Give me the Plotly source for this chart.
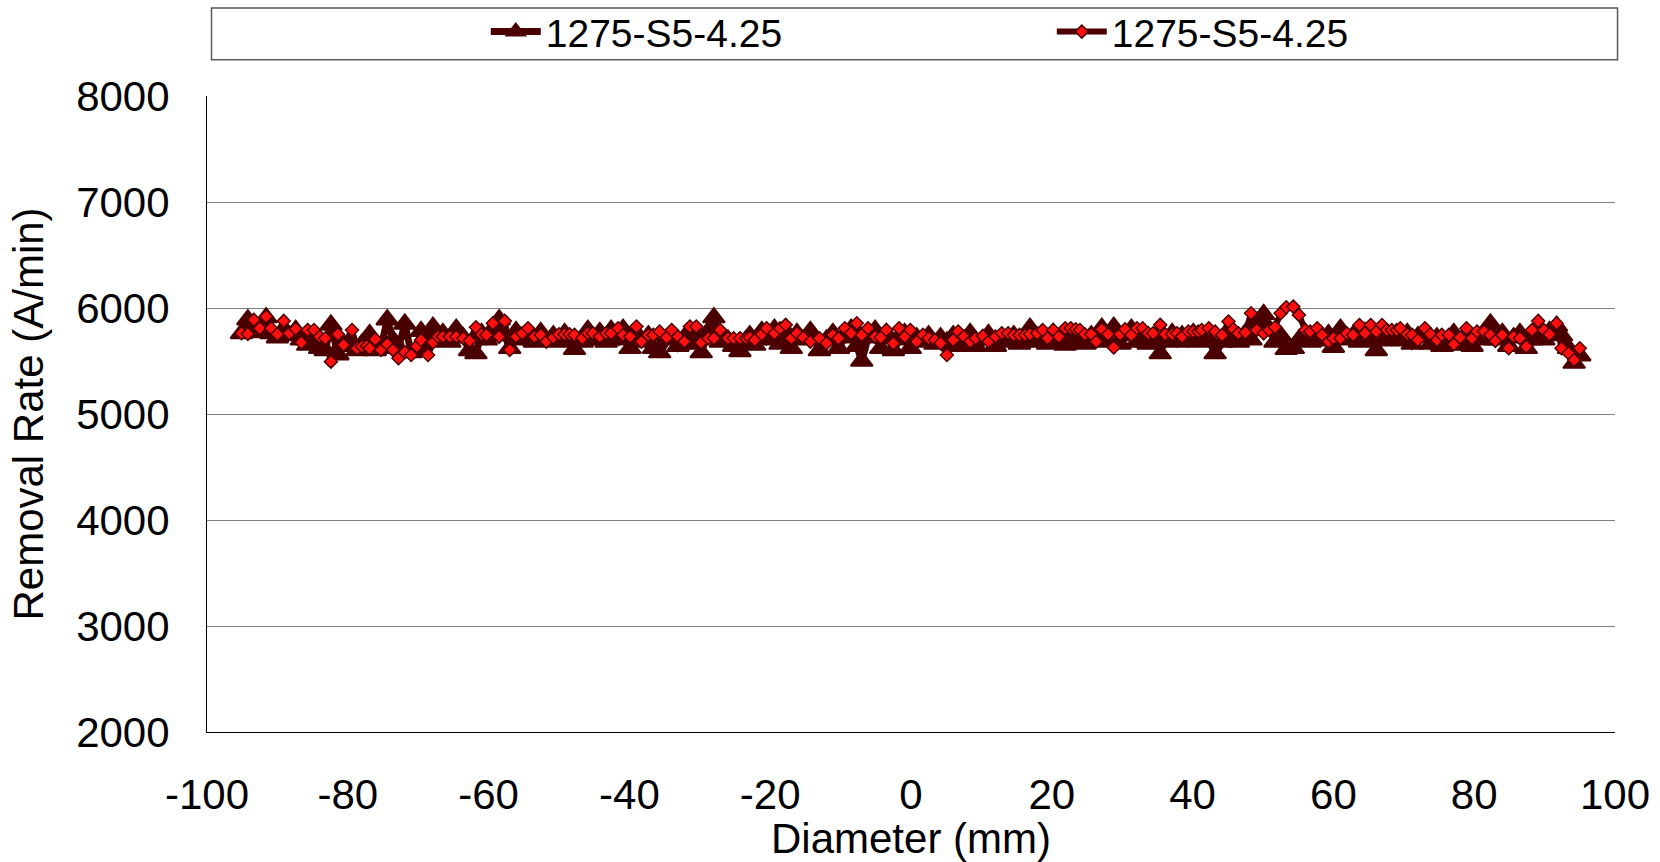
import plotly.graph_objects as go

# Radial position across the wafer (mm)
diameter_mm = [
    -95.1, -94.2, -93.35, -92.5, -91.6, -90.9, -90.0, -89.1, -88.3, -87.4,
    -86.6, -85.7, -84.8, -84.0, -83.2, -82.4, -81.4, -80.6, -79.4, -78.7,
    -78.0, -77.3, -76.9, -76.1, -75.3, -74.4, -73.6, -72.8, -71.9, -71.0,
    -70.2,
    -69.6, -68.6, -67.9, -67.2, -66.5, -65.5, -64.6, -63.6, -62.7, -61.8,
    -61.0, -60.3, -59.4, -58.5, -57.7, -57.0, -56.1, -55.2, -54.4, -53.5,
    -52.6, -51.8, -50.8, -50.0, -49.2, -48.5, -47.8, -46.7, -45.9, -45.2,
    -44.2, -43.3, -42.6,
    -41.6, -40.9, -39.9, -39.0, -38.3, -37.3, -36.6, -35.7, -34.7, -34.0,
    -33.1, -32.2, -31.4, -30.5, -29.8, -28.8, -28.0, -27.1, -26.0, -25.2,
    -24.3, -23.4, -22.9, -22.2, -21.2, -20.5, -19.4, -18.6, -17.8, -17.0,
    -16.2, -15.3, -14.3,
    -13.0, -12.0, -11.1, -10.3, -9.4, -8.5, -7.7, -7.0, -6.1, -5.1,
    -4.3, -3.5, -2.5, -1.7, -0.9, -0.1, 0.8, 1.7, 2.5, 3.4,
    4.2, 5.1, 6.0, 6.7, 7.5, 8.4, 9.2, 10.2, 11.0, 12.0,
    12.9,
    13.8, 14.6, 15.4, 16.2, 16.9, 17.9, 18.7, 19.4, 20.2, 21.0,
    21.9, 22.7, 23.4, 24.0, 24.7, 25.6, 26.3, 27.1, 28.0, 28.8,
    29.7, 30.4, 31.3, 32.1, 32.9, 33.7, 34.4, 35.4, 36.1, 37.1,
    37.8, 38.5, 39.4, 40.1, 40.8,
    41.3, 42.3, 43.2, 44.2, 45.1, 45.8, 46.5, 47.5, 48.3, 49.1,
    50.1, 50.9, 51.7, 52.5, 53.3, 54.3, 55.1, 56.0, 56.7, 57.7,
    58.4, 59.3, 60.0, 61.0, 61.9, 62.8, 63.7, 64.5, 65.3, 66.1,
    66.9, 67.6, 68.3, 69.0,
    69.5, 70.5, 71.2, 72.0, 73.0, 73.8, 74.7, 75.4, 76.4, 77.1,
    78.0, 78.9, 79.7, 80.4, 81.4, 82.3, 83.0, 84.0, 84.9, 85.6,
    86.5, 87.4, 88.2, 89.1, 89.9, 90.7, 91.7, 92.4, 93.4, 94.2,
    95.0,
]

# Removal rate, first scan (A/min) - triangle markers
rate_scan_1 = [
    5760, 5890, 5770, 5800, 5910, 5760, 5720, 5800, 5740, 5790,
    5700, 5650, 5720, 5620, 5600, 5840, 5560, 5660, 5640, 5600,
    5660, 5700, 5750, 5600, 5620, 5890, 5700, 5620, 5850, 5580,
    5600,
    5780, 5680, 5820, 5700, 5760, 5680, 5800, 5720, 5600, 5570,
    5760, 5700, 5800, 5890, 5740, 5620, 5780, 5700, 5760, 5680,
    5770, 5700, 5740, 5680, 5760, 5700, 5610, 5680, 5790, 5700,
    5770, 5680, 5790,
    5700, 5800, 5620, 5760, 5680, 5740, 5620, 5580, 5700, 5750,
    5640, 5720, 5660, 5760, 5580, 5780, 5910, 5680, 5700, 5640,
    5590, 5700, 5740, 5650, 5780, 5700, 5800, 5660, 5780, 5620,
    5760, 5700, 5780,
    5600, 5700, 5760, 5620, 5720, 5800, 5640, 5500, 5720, 5790,
    5620, 5760, 5600, 5700, 5760, 5620, 5720, 5680, 5740, 5660,
    5720, 5680, 5740, 5640, 5700, 5760, 5640, 5700, 5750, 5640,
    5720,
    5680, 5740, 5660, 5700, 5810, 5680, 5740, 5660, 5760, 5700,
    5650, 5740, 5680, 5720, 5660, 5740, 5700, 5810, 5680, 5820,
    5660, 5740, 5800, 5680, 5740, 5660, 5720, 5570, 5700, 5760,
    5680, 5740, 5700, 5760, 5680,
    5740, 5700, 5570, 5680, 5760, 5700, 5680, 5760, 5700, 5860,
    5940, 5800, 5680, 5740, 5610, 5620, 5700, 5760, 5680, 5740,
    5690, 5750, 5630, 5800, 5700, 5740, 5680, 5770, 5700, 5600,
    5720, 5760, 5690, 5740,
    5700, 5760, 5660, 5730, 5770, 5660, 5720, 5640, 5700, 5760,
    5650, 5720, 5640, 5740, 5700, 5850, 5700, 5760, 5640, 5720,
    5760, 5620, 5700, 5760, 5700, 5780, 5830, 5740, 5620, 5480,
    5550,
]

# Removal rate, second scan (A/min) - diamond markers
rate_scan_2 = [
    5762, 5756, 5888, 5809, 5919, 5809, 5752, 5878, 5762, 5803,
    5674, 5793, 5793, 5730, 5715, 5494, 5752, 5652, 5793, 5620,
    5636, 5640, 5620, 5705, 5605, 5658, 5605, 5526, 5583, 5557,
    5640,
    5699, 5557, 5674, 5730, 5730, 5730, 5730, 5715, 5690, 5819,
    5752, 5746, 5856, 5730, 5878, 5605, 5730, 5762, 5809, 5730,
    5746, 5683, 5721, 5752, 5752, 5752, 5746, 5715, 5762, 5762,
    5730, 5762, 5762,
    5809, 5746, 5730, 5825, 5683, 5746, 5746, 5778, 5721, 5793,
    5730, 5683, 5825, 5825, 5674, 5715, 5715, 5793, 5715, 5715,
    5715, 5715, 5721, 5699, 5752, 5809, 5762, 5809, 5841, 5715,
    5762, 5721, 5683,
    5715, 5668, 5746, 5715, 5809, 5762, 5856, 5746, 5809, 5730,
    5721, 5793, 5668, 5809, 5730, 5793, 5683, 5746, 5715, 5699,
    5668, 5557, 5699, 5778, 5730, 5683, 5715, 5737, 5683, 5730,
    5762,
    5762, 5746, 5746, 5746, 5752, 5762, 5793, 5715, 5793, 5730,
    5809, 5809, 5800, 5793, 5752, 5752, 5683, 5800, 5752, 5627,
    5752, 5800, 5746, 5809, 5809, 5762, 5762, 5841, 5752, 5752,
    5762, 5730, 5778, 5778, 5778,
    5793, 5809, 5777, 5746, 5872, 5799, 5761, 5768, 5950, 5793,
    5761, 5793, 5818, 5950, 6007, 6013, 5935, 5793, 5777, 5809,
    5746, 5683, 5714, 5714, 5761, 5746, 5840, 5761, 5840, 5777,
    5840, 5793, 5793, 5793,
    5809, 5752, 5746, 5699, 5809, 5752, 5699, 5746, 5746, 5658,
    5721, 5809, 5715, 5778, 5778, 5746, 5690, 5746, 5620, 5730,
    5715, 5636, 5793, 5878, 5793, 5752, 5856, 5620, 5573, 5510,
    5620,
]

series_names = ["1275-S5-4.25", "1275-S5-4.25"]
x_ticks = [-100, -80, -60, -40, -20, 0, 20, 40, 60, 80, 100]
y_ticks = [2000, 3000, 4000, 5000, 6000, 7000, 8000]

DARK = "#4a0000"
RED = "#ff1010"
FONT = "Liberation Sans, Arial, sans-serif"
AXIS_FONT = dict(family=FONT, size=42, color="black")

fig = go.Figure()

fig.add_trace(go.Scatter(
    x=diameter_mm, y=rate_scan_1, name=series_names[0],
    mode="lines+markers",
    line=dict(color=DARK, width=7),
    marker=dict(symbol="triangle-up", size=19, color=DARK,
                line=dict(color=DARK, width=2)),
))

fig.add_trace(go.Scatter(
    x=diameter_mm, y=rate_scan_2, name=series_names[1],
    mode="lines+markers",
    line=dict(color=DARK, width=6),
    marker=dict(symbol="diamond", size=10, color=RED,
                line=dict(color=DARK, width=1.5)),
))

# Frame drawn around the legend strip above the plot
fig.add_shape(
    type="rect", xref="paper", yref="paper",
    x0=0.0032, x1=1.0018, y0=1.0571, y1=1.1382,
    line=dict(color="#5a5a5a", width=1.5), fillcolor="rgba(0,0,0,0)",
    layer="above",
)

fig.update_layout(
    width=1660, height=862,
    margin=dict(l=207, r=45, t=96, b=130, autoexpand=False),
    paper_bgcolor="white", plot_bgcolor="white",
    font=AXIS_FONT,
    showlegend=True,
    legend=dict(
        orientation="h", x=0.198, xanchor="left", y=1.101, yanchor="middle",
        font=dict(family=FONT, size=39, color="black"),
        bgcolor="rgba(0,0,0,0)", borderwidth=0,
        entrywidth=501, entrywidthmode="pixels",
        itemwidth=50,
    ),
    xaxis=dict(
        range=[-100, 100], tickvals=x_ticks,
        ticktext=[str(v) for v in x_ticks],
        showgrid=False, zeroline=False, automargin=False,
        showline=True, linecolor="black", linewidth=1,
        ticks="", ticklabelstandoff=26,
        tickfont=AXIS_FONT,
        title=dict(text="Diameter (mm)", standoff=5, font=AXIS_FONT),
    ),
    yaxis=dict(
        range=[2000, 8000], tickvals=y_ticks,
        showgrid=True, gridcolor="#808080", gridwidth=1,
        zeroline=False, automargin=False,
        showline=True, linecolor="black", linewidth=1,
        ticks="", ticklabelstandoff=28,
        tickfont=AXIS_FONT,
        title=dict(text="Removal Rate (A/min)", standoff=19, font=AXIS_FONT),
    ),
)

fig.write_html("out.html")
